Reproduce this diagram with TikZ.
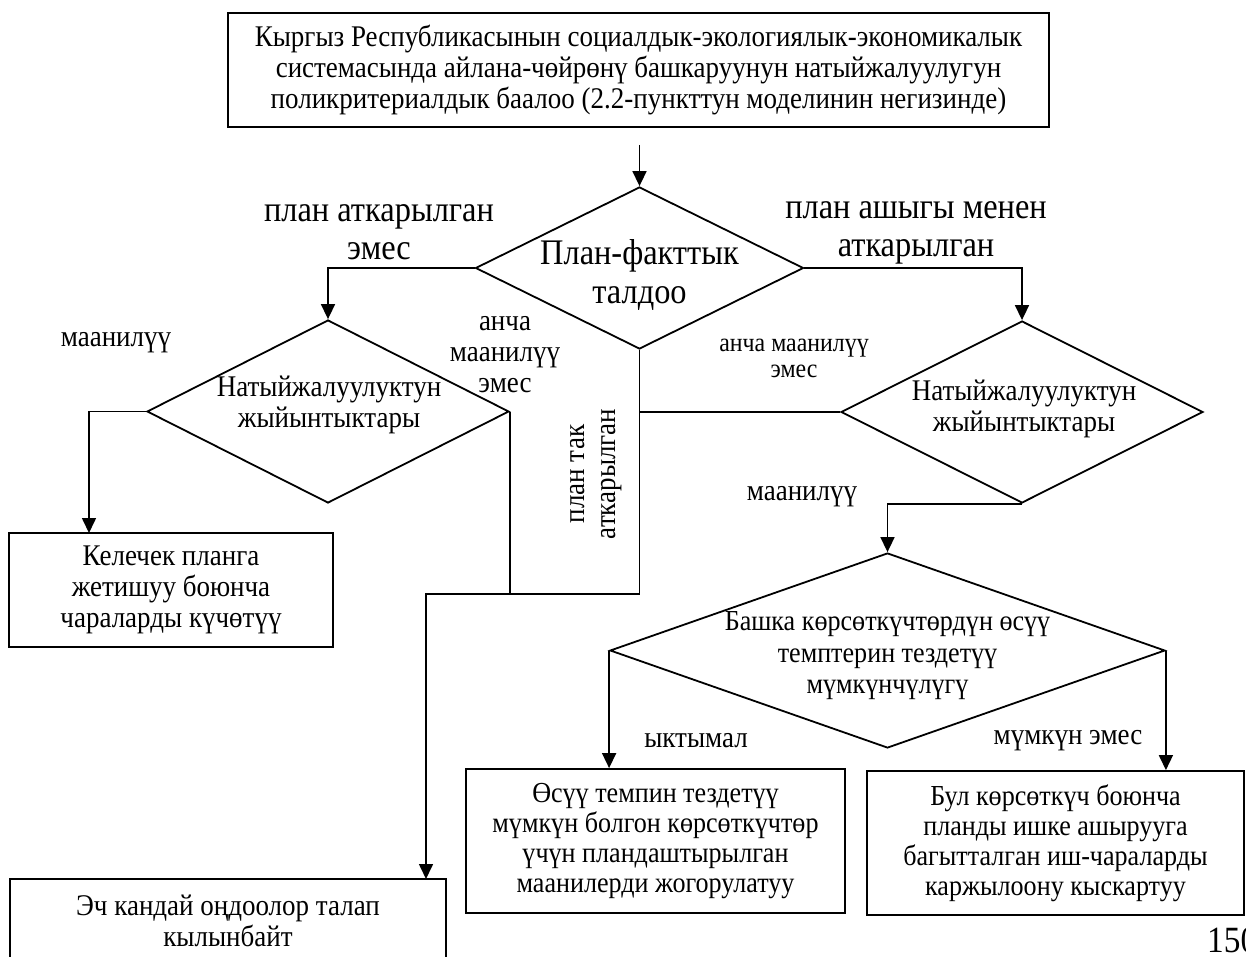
\documentclass[tikz,border=0pt]{standalone}
\usepackage{fontspec}
\setmainfont{Liberation Serif}[FakeStretch=0.9]
\usetikzlibrary{shapes.geometric,arrows.meta,calc}
\tikzset{
  box/.style={draw, line width=1.8pt, rectangle, inner sep=0pt, align=center, font=\fontsize{30}{31}\selectfont},
  dia/.style={draw, line width=1.8pt, diamond, inner sep=0pt},
  txt/.style={align=center, inner sep=0pt, font=\fontsize{30}{31}\selectfont},
  bigtxt/.style={align=center, inner sep=0pt, font=\fontsize{36}{38.5}\selectfont},
  smalltxt/.style={align=center, inner sep=0pt, font=\fontsize{26.5}{26}\selectfont},
  arr/.style={line width=1.6pt, -{Triangle[width=14pt,length=15pt]}},
  ln/.style={line width=1.6pt},
  thinln/.style={line width=1.3pt}
}
\begin{document}
\begin{tikzpicture}[x=1pt,y=-1pt]
\useasboundingbox (0,0) rectangle (1246,957);
\clip (0,0) rectangle (1246,957);
% boxes
\node[box, minimum width=821pt, minimum height=114pt] (top) at (638.5,70)
  {Кыргыз Республикасынын социалдык-экологиялык-экономикалык\\системасында айлана-чөйрөнү башкаруунун натыйжалуулугун\\поликритериалдык баалоо (2.2-пункттун моделинин негизинде)};
\node[box, minimum width=324pt, minimum height=114pt] (kel) at (171,590)
  {Келечек планга\\жетишуу боюнча\\чараларды күчөтүү};
\node[box, minimum width=436pt, minimum height=84pt] (eh) at (228,921)
  {Эч кандай оңдоолор талап\\кылынбайт};
\node[box, minimum width=379pt, minimum height=144pt, font=\fontsize{29}{30}\selectfont] (mb) at (655.5,841)
  {Өсүү темпин тездетүү\\мүмкүн болгон көрсөткүчтөр\\үчүн пландаштырылган\\маанилерди жогорулатуу};
\node[box, minimum width=377pt, minimum height=144pt, font=\fontsize{29}{30}\selectfont] (rb) at (1055.5,843)
  {Бул көрсөткүч боюнча\\планды ишке ашырууга\\багытталган иш-чараларды\\каржылоону кыскартуу};
% diamonds
\node[dia, minimum width=328pt, minimum height=162pt] (m) at (639.5,268) {};
\node[bigtxt] at (639.5,275) {План-факттык\\талдоо};
\node[dia, minimum width=362pt, minimum height=183pt] (ld) at (328,411.5) {};
\node[txt] at (329,405) {Натыйжалуулуктун\\жыйынтыктары};
\node[dia, minimum width=362pt, minimum height=182pt] (rd) at (1022,412) {};
\node[txt] at (1024,409) {Натыйжалуулуктун\\жыйынтыктары};
\node[dia, minimum width=555pt, minimum height=195pt] (bd) at (887.5,650.5) {};
\node[txt, font=\fontsize{29}{31.5}\selectfont] at (887.5,656) {Башка көрсөткүчтөрдүн өсүү\\темптерин тездетүү\\мүмкүнчүлүгү};
% labels
\node[bigtxt] at (379,232) {план аткарылган\\эмес};
\node[bigtxt] at (916,233) {план ашыгы менен\\аткарылган};
\node[txt] at (116,343) {маанилүү};
\node[txt] at (505,355) {анча\\маанилүү\\эмес};
\node[smalltxt] at (794,358) {анча маанилүү\\эмес};
\node[txt] at (802,497) {маанилүү};
\node[txt, rotate=90] at (596,474) {план так\\аткарылган};
\node[txt] at (696,741) {ыктымал};
\node[txt] at (1068,741) {мүмкүн эмес};
\node[anchor=base west, inner sep=0pt, font=\fontsize{37}{40}\selectfont] (pg) at (1207,952) {150};
% connector points
\coordinate (a0) at (639.5,145);
\coordinate (k1) at (89,533);
\coordinate (j2) at (639.5,594);
\coordinate (e1) at (426,879);
% connectors
\draw[arr] (a0) -- (m.north);
\draw[arr] (m.west) -| (ld.north);
\draw[arr] (m.east) -| (rd.north);
\draw[arr] (ld.west) -| (k1);
\draw[thinln] (ld.east) -- (ld.east |- j2);
\draw[arr] (m.south) -- (j2) -| (e1);
\draw[ln] (m.south |- rd.west) -- (rd.west);
\draw[arr] (rd.south) -| (bd.north);
\draw[arr] (bd.west) -- (bd.west |- mb.north);
\draw[arr] (bd.east) -- (bd.east |- rb.north);
\end{tikzpicture}
\end{document}
